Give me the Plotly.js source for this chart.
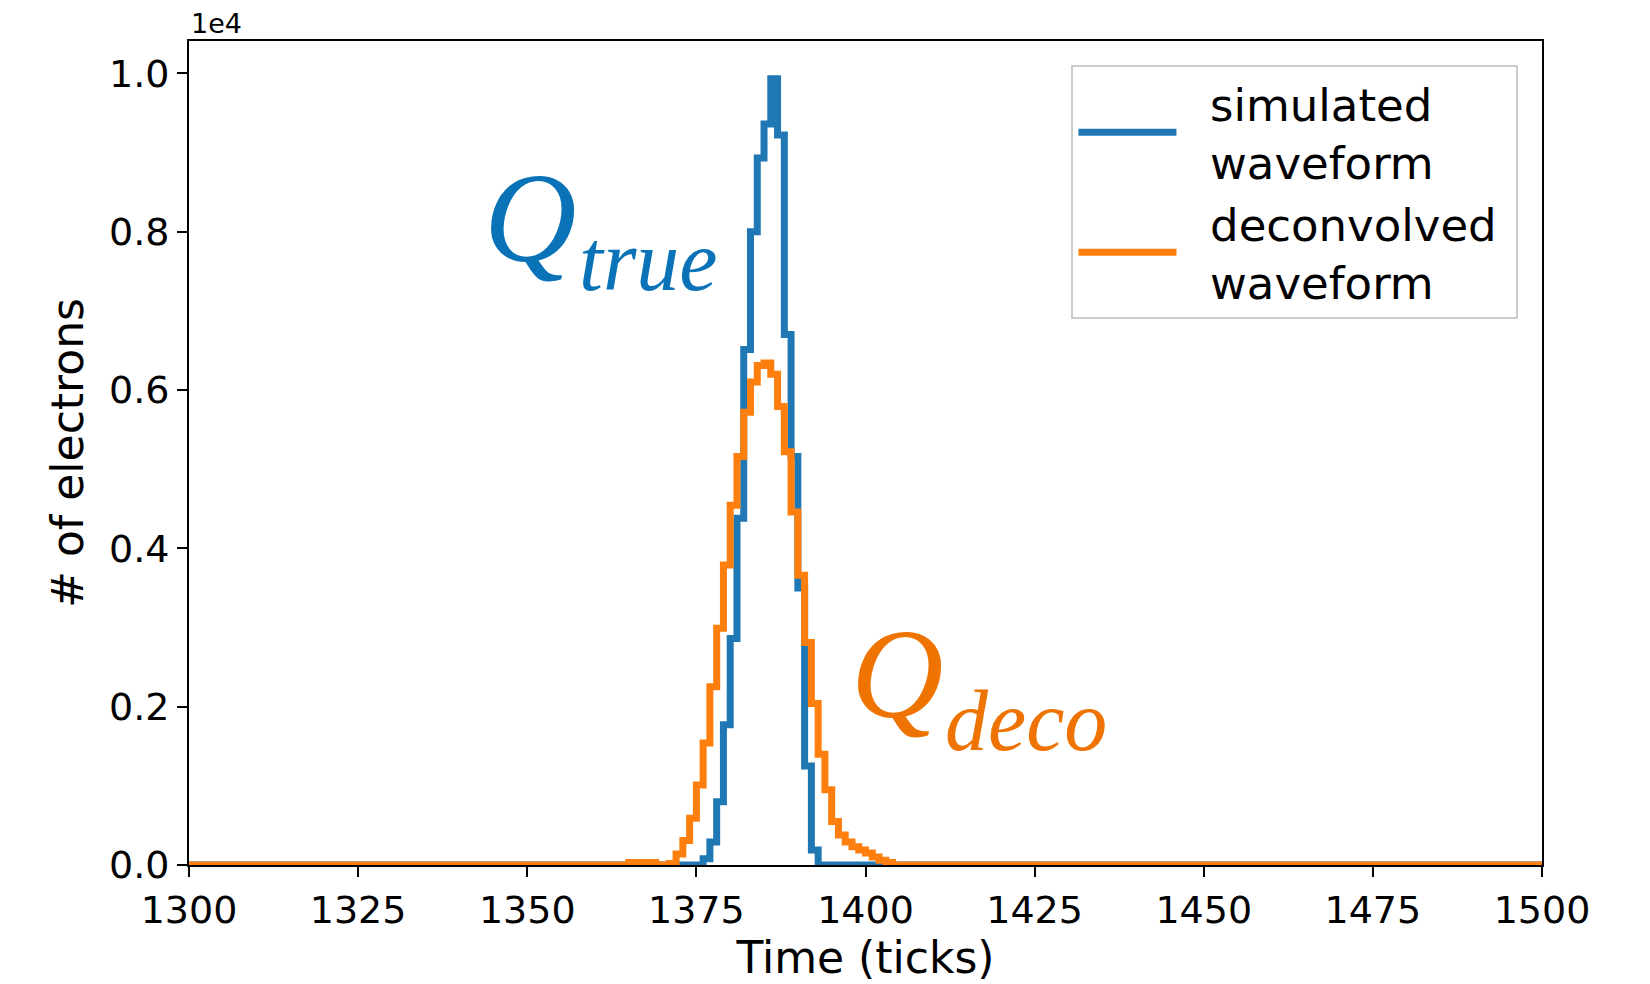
<!DOCTYPE html>
<html><head><meta charset="utf-8">
<script src="https://cdn.plot.ly/plotly-3.0.1.min.js"></script>
<style>html,body{margin:0;padding:0;background:#fff}#chart{width:1650px;height:984px}</style>
</head><body><div id="chart"></div>
<script>
// Simulated waveform: time bin (left edge, ticks) and number of electrons
const simTime = [1300, 1375, 1376, 1377, 1378, 1379, 1380, 1381, 1382, 1383, 1384, 1385, 1386, 1387, 1388, 1389, 1390, 1391, 1392, 1393, 1500];
const simCounts = [0, 0, 80, 290, 800, 1770, 2860, 4380, 6510, 8000, 8930, 9360, 9930, 9220, 6700, 5160, 3500, 1250, 190, 0, 0];

// Deconvolved waveform
const decoTime = [1300, 1365, 1366, 1367, 1368, 1369, 1370, 1371, 1372, 1373, 1374, 1375, 1376, 1377, 1378, 1379, 1380, 1381, 1382, 1383, 1384, 1385, 1386, 1387, 1388, 1389, 1390, 1391, 1392, 1393, 1394, 1395, 1396, 1397, 1398, 1399, 1400, 1401, 1402, 1403, 1404, 1500];
const decoCounts = [0, 30, 30, 30, 30, 0, 0, 20, 140, 310, 590, 1010, 1540, 2250, 2990, 3790, 4545, 5160, 5720, 6100, 6310, 6340, 6200, 5790, 5220, 4460, 3660, 2810, 2040, 1400, 950, 550, 380, 290, 230, 190, 150, 100, 60, 30, 0, 0];

const xTickVals = [1300, 1325, 1350, 1375, 1400, 1425, 1450, 1475, 1500];
const yTickVals = [0, 2000, 4000, 6000, 8000, 10000];
const yTickText = ['0.0', '0.2', '0.4', '0.6', '0.8', '1.0'];
const NB = '\u00a0\u00a0';
const seriesNames = [NB + 'simulated<br>' + NB + 'waveform', NB + 'deconvolved\u00a0<br>' + NB + 'waveform'];

const FONT = 'DejaVu Sans, sans-serif';
const SERIF = 'Liberation Serif, serif';

const traces = [
  {x: simTime, y: simCounts, type: 'scatter', mode: 'lines', name: seriesNames[0],
   line: {shape: 'hv', color: '#1f77b4', width: 7}},
  {x: decoTime, y: decoCounts, type: 'scatter', mode: 'lines', name: seriesNames[1],
   line: {shape: 'hv', color: '#ff7f0e', width: 7}}
];

const axisCommon = {
  showgrid: false, zeroline: false, showline: true, mirror: true,
  linecolor: '#000', linewidth: 2,
  ticks: 'outside', ticklen: 10, tickwidth: 2, tickcolor: '#000',
  tickfont: {family: FONT, size: 38, color: '#000'}
};

const layout = {
  width: 1650, height: 984,
  margin: {l: 189, r: 108, t: 41, b: 119, pad: 0},
  paper_bgcolor: '#fff', plot_bgcolor: '#fff',
  font: {family: FONT, color: '#000'},
  showlegend: true,
  xaxis: Object.assign({}, axisCommon, {
    range: [1300, 1500], tickmode: 'array', tickvals: xTickVals,
    title: {text: 'Time (ticks)', font: {family: FONT, size: 44, color: '#000'}, standoff: 12}
  }),
  yaxis: Object.assign({}, axisCommon, {
    range: [0, 10408], tickmode: 'array', tickvals: yTickVals, ticktext: yTickText,
    title: {text: '# of electrons', font: {family: FONT, size: 44, color: '#000'}, standoff: 12}
  }),
  legend: {
    x: 0.9826, xanchor: 'right', y: 0.9705, yanchor: 'top',
    bgcolor: 'rgba(255,255,255,0.8)', bordercolor: '#cccccc', borderwidth: 2,
    font: {family: FONT, size: 45, color: '#000'},
    itemwidth: 98, tracegroupgap: 4
  },
  annotations: [
    {text: '1e4', xref: 'paper', yref: 'paper', x: 0, y: 1, xanchor: 'left', yanchor: 'bottom',
     showarrow: false, font: {family: FONT, size: 27, color: '#000'}},
    {text: 'Q', xref: 'paper', yref: 'paper', x: 0.2169, y: 0.7856, xanchor: 'left', yanchor: 'middle',
     showarrow: false, font: {family: SERIF, size: 128, color: '#0a73b8', style: 'italic'}},
    {text: 'true', xref: 'paper', yref: 'paper', x: 0.2866, y: 0.733, xanchor: 'left', yanchor: 'middle',
     showarrow: false, font: {family: SERIF, size: 86, color: '#0a73b8', style: 'italic'}},
    {text: 'Q', xref: 'paper', yref: 'paper', x: 0.4881, y: 0.2312, xanchor: 'left', yanchor: 'middle',
     showarrow: false, font: {family: SERIF, size: 128, color: '#ee7300', style: 'italic'}},
    {text: 'deco', xref: 'paper', yref: 'paper', x: 0.5576, y: 0.1749, xanchor: 'left', yanchor: 'middle',
     showarrow: false, font: {family: SERIF, size: 86, color: '#ee7300', style: 'italic'}}
  ]
};

Plotly.newPlot('chart', traces, layout, {staticPlot: true, displayModeBar: false});
</script>
</body></html>
